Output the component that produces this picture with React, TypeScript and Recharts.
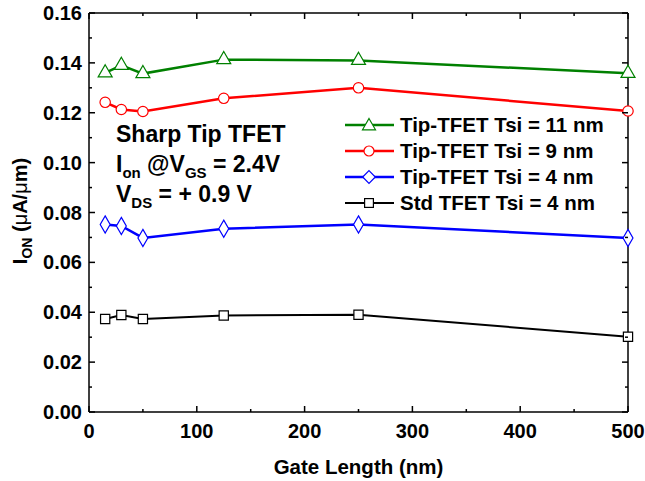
import { ComposedChart, Line, Scatter, XAxis, YAxis, ZAxis, ReferenceLine } from "recharts";

const gateLength = [15, 30, 50, 125, 250, 500];
const tipTsi11 = [0.136, 0.139, 0.1357, 0.1413, 0.141, 0.1358];
const tipTsi9 = [0.1242, 0.1213, 0.1205, 0.1258, 0.13, 0.1207];
const tipTsi4 = [0.0752, 0.0746, 0.0698, 0.0735, 0.0752, 0.0698];
const stdTsi4 = [0.0373, 0.0389, 0.0373, 0.0387, 0.039, 0.0302];

const xTicks = [0, 50, 100, 150, 200, 250, 300, 350, 400, 450, 500];
const yTicks = [0, 0.01, 0.02, 0.03, 0.04, 0.05, 0.06, 0.07, 0.08, 0.09, 0.1, 0.11, 0.12, 0.13, 0.14, 0.15, 0.16];

const data = gateLength.map((g, i) => ({
  g,
  tsi11: tipTsi11[i],
  tsi9: tipTsi9[i],
  tip4: tipTsi4[i],
  std4: stdTsi4[i],
}));

const FONT = "'Liberation Sans', Arial, sans-serif";
const W = 645;
const H = 481;
const margin = { top: 13, right: 17, bottom: 0, left: 0 };
const plotTop = margin.top;
const plotRight = W - margin.right;

const series = [
  { key: "tsi11", name: "Tip-TFET Tsi = 11 nm", color: "#008000", shape: "triangle", width: 2.5 },
  { key: "tsi9", name: "Tip-TFET Tsi = 9 nm", color: "#ff0000", shape: "circle", width: 2.5 },
  { key: "tip4", name: "Tip-TFET Tsi = 4 nm", color: "#0000ff", shape: "diamond", width: 2.5 },
  { key: "std4", name: "Std TFET Tsi = 4 nm", color: "#000000", shape: "square", width: 2 },
];

// legend marker only
function Marker({ cx, cy, shape, color }: any) {
  const common = { fill: "#fff", stroke: color, strokeWidth: 1.2 };
  if (shape === "triangle")
    return <polygon points={`${cx},${cy - 6.5} ${cx + 6.5},${cy + 4.8} ${cx - 6.5},${cy + 4.8}`} {...common} />;
  if (shape === "circle") return <circle cx={cx} cy={cy} r={5} {...common} />;
  if (shape === "diamond")
    return <polygon points={`${cx},${cy - 6.3} ${cx + 6.3},${cy} ${cx},${cy + 6.3} ${cx - 6.3},${cy}`} {...common} />;
  return <rect x={cx - 4.4} y={cy - 4.4} width={8.8} height={8.8} {...common} />;
}

const isMajorX = (v: number) => v % 100 === 0;
const isMajorY = (v: number) => Math.round(v * 100) % 2 === 0;

// bottom ticks point inward; mirrored ticks drawn on the top frame edge
function BottomTick({ x, y, payload }: any) {
  const major = isMajorX(payload.value);
  const len = major ? 6 : 3;
  return (
    <g>
      <line x1={x} x2={x} y1={y} y2={y - len} stroke="#000" strokeWidth={1.5} />
      <line x1={x} x2={x} y1={plotTop} y2={plotTop + len} stroke="#000" strokeWidth={1.5} />
      {major && (
        <text x={x} y={y + 26} textAnchor="middle" fontFamily={FONT} fontWeight="bold" fontSize={20} fill="#000">
          {payload.value}
        </text>
      )}
    </g>
  );
}

function LeftTick({ x, y, payload }: any) {
  const major = isMajorY(payload.value);
  const len = major ? 6 : 3;
  return (
    <g>
      <line x1={x} x2={x + len} y1={y} y2={y} stroke="#000" strokeWidth={1.5} />
      <line x1={plotRight} x2={plotRight - len} y1={y} y2={y} stroke="#000" strokeWidth={1.5} />
      {major && (
        <text x={x - 7} y={y + 7} textAnchor="end" fontFamily={FONT} fontWeight="bold" fontSize={20} fill="#000">
          {payload.value.toFixed(2)}
        </text>
      )}
    </g>
  );
}

const bottomTick = <BottomTick />;
const leftTick = <LeftTick />;
const axisLineStyle = { stroke: "#000", strokeWidth: 1.5 };
const xLabel = {
  value: "Gate Length (nm)",
  position: "insideBottom" as const,
  offset: 7,
  style: { fontFamily: FONT, fontWeight: "bold", fontSize: 20.5, fill: "#000" },
};

function LegendBox() {
  return (
    <div style={{ fontFamily: FONT, fontWeight: "bold", fontSize: 20.5, color: "#000" }}>
      {series.map((s) => (
        <div key={s.key} style={{ display: "flex", alignItems: "center", height: 26 }}>
          <svg width={52} height={20} style={{ marginRight: 4 }}>
            <line x1={1} x2={50} y1={10} y2={10} stroke={s.color} strokeWidth={s.width} />
            <Marker cx={25} cy={10} shape={s.shape} color={s.color} />
          </svg>
          <span>{s.name}</span>
        </div>
      ))}
    </div>
  );
}

export default function App() {
  const sub = { fontSize: 15 };
  return (
    <div style={{ position: "absolute", left: 0, top: 0, width: W, height: H, background: "#fff" }}>
      <svg width={W} height={H} style={{ position: "absolute", left: 0, top: 0 }} fontFamily={FONT} fontWeight="bold">
        <text x={116} y={142} fontSize={23} fill="#000">Sharp Tip TFET</text>
        <text x={116} y={172} fontSize={23} fill="#000">
          I<tspan dy={6} {...sub}>on</tspan>
          <tspan dy={-6}> @V</tspan>
          <tspan dy={6} {...sub}>GS</tspan>
          <tspan dy={-6}> = 2.4V</tspan>
        </text>
        <text x={116} y={202} fontSize={23} fill="#000">
          V<tspan dy={6} {...sub}>DS</tspan>
          <tspan dy={-6}> = + 0.9 V</tspan>
        </text>
        <text transform="translate(27,211) rotate(-90)" textAnchor="middle" fontSize={20} fill="#000">
          I<tspan dy={5} fontSize={14}>ON</tspan>
          <tspan dy={-5}> (</tspan>
          <tspan fontWeight="normal">μ</tspan>
          <tspan>A/</tspan>
          <tspan fontWeight="normal">μ</tspan>
          <tspan>m)</tspan>
        </text>
      </svg>
      <div style={{ position: "absolute", left: 344, top: 112 }}>
        <LegendBox />
      </div>
      <div style={{ position: "absolute", left: 0, top: 0 }}>
        <ComposedChart width={W} height={H} data={data} margin={margin}>
          <XAxis
            dataKey="g"
            type="number"
            domain={[0, 500]}
            ticks={xTicks}
            interval={0}
            tickSize={0}
            tickMargin={0}
            tickLine={false}
            height={69}
            axisLine={axisLineStyle}
            tick={bottomTick}
            label={xLabel}
          />
          <YAxis
            type="number"
            domain={[0, 0.16]}
            ticks={yTicks}
            interval={0}
            tickSize={0}
            tickMargin={0}
            tickLine={false}
            width={89}
            axisLine={axisLineStyle}
            tick={leftTick}
          />
          <ZAxis range={[85, 85]} />
          <ReferenceLine y={0.16} stroke="#000" strokeWidth={1.5} />
          <ReferenceLine x={500} stroke="#000" strokeWidth={1.5} />
          {series.map((s) => (
            <Line
              key={s.key}
              dataKey={s.key}
              name={s.name}
              stroke={s.color}
              strokeWidth={s.width}
              isAnimationActive={false}
              dot={false}
              activeDot={false}
            />
          ))}
          {series.map((s) => (
            <Scatter
              key={`${s.key}-pts`}
              dataKey={s.key}
              shape={s.shape as any}
              fill="#fff"
              stroke={s.color}
              strokeWidth={1.2}
              isAnimationActive={false}
              legendType="none"
            />
          ))}
        </ComposedChart>
      </div>
    </div>
  );
}
